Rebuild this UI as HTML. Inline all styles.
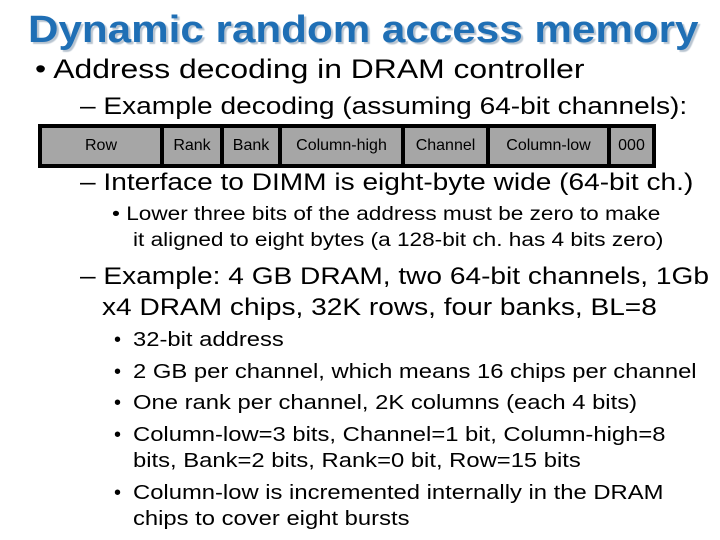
<!DOCTYPE html>
<html><head><meta charset="utf-8"><style>
body{margin:0;width:720px;height:540px;background:#fff;position:relative;overflow:hidden;font-family:"Liberation Sans",sans-serif;color:#000}
.t{position:absolute;white-space:nowrap;transform-origin:0 50%}
.s3{transform:scaleX(1.19);font-size:20px}
.s2{transform:scaleX(1.17);font-size:24px}
h1{position:absolute;left:28px;top:9px;margin:0;font-size:38px;font-weight:bold;color:#1f6fb5;text-shadow:2px 2px 1px #b8c4d0;white-space:nowrap;transform-origin:0 50%;transform:scaleX(1.11)}
.bar{position:absolute;left:38px;top:124px;width:618px;height:44px;background:#000}
.c{position:absolute;top:4px;height:36px;background:#a6a6a6;font-size:16px;line-height:36px;text-align:center}
</style></head><body>
<h1>Dynamic random access memory</h1>
<div class="t" style="left:35px;top:54px;font-size:27px;transform:scaleX(1.18)">• Address decoding in DRAM controller</div>
<div class="t s2" style="left:80px;top:93px">– Example decoding (assuming 64-bit channels):</div>
<div class="bar">
<div class="c" style="left:4px;width:118px">Row</div>
<div class="c" style="left:126px;width:56px">Rank</div>
<div class="c" style="left:186px;width:54px">Bank</div>
<div class="c" style="left:244px;width:119px">Column-high</div>
<div class="c" style="left:367px;width:81px">Channel</div>
<div class="c" style="left:452px;width:117px">Column-low</div>
<div class="c" style="left:573px;width:41px">000</div>
</div>
<div class="t s2" style="left:80px;top:169px">– Interface to DIMM is eight-byte wide (64-bit ch.)</div>
<div class="t s3" style="left:112px;top:204px;font-size:19px">• Lower three bits of the address must be zero to make</div>
<div class="t s3" style="left:133px;top:230px;font-size:19px">it aligned to eight bytes (a 128-bit ch. has 4 bits zero)</div>
<div class="t s2" style="left:80px;top:263px">– Example: 4 GB DRAM, two 64-bit channels, 1Gb</div>
<div class="t s2" style="left:102px;top:294px">x4 DRAM chips, 32K rows, four banks, BL=8</div>
<div class="t" style="left:114px;top:329px;font-size:20px">•</div><div class="t s3" style="left:133px;top:329px">32-bit address</div>
<div class="t" style="left:114px;top:361px;font-size:20px">•</div><div class="t s3" style="left:133px;top:361px">2 GB per channel, which means 16 chips per channel</div>
<div class="t" style="left:114px;top:392px;font-size:20px">•</div><div class="t s3" style="left:133px;top:392px">One rank per channel, 2K columns (each 4 bits)</div>
<div class="t" style="left:114px;top:424px;font-size:20px">•</div><div class="t s3" style="left:133px;top:424px">Column-low=3 bits, Channel=1 bit, Column-high=8</div>
<div class="t s3" style="left:133px;top:450px">bits, Bank=2 bits, Rank=0 bit, Row=15 bits</div>
<div class="t" style="left:114px;top:482px;font-size:20px">•</div><div class="t s3" style="left:133px;top:482px">Column-low is incremented internally in the DRAM</div>
<div class="t s3" style="left:133px;top:508px">chips to cover eight bursts</div>
</body></html>
